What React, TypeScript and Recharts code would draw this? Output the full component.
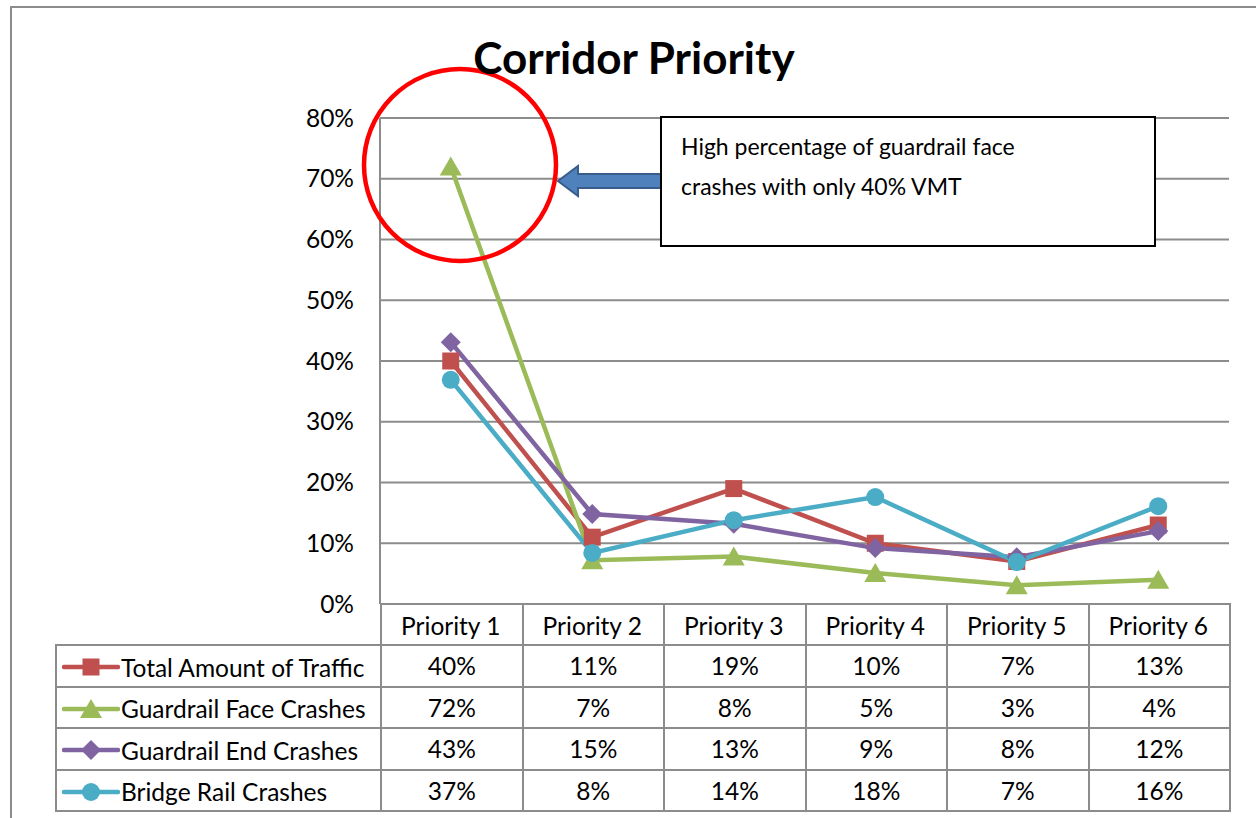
import React from 'react';
import { LineChart, Line, XAxis, YAxis, CartesianGrid } from 'recharts';

const categories = ['Priority 1', 'Priority 2', 'Priority 3', 'Priority 4', 'Priority 5', 'Priority 6'];
const totalTraffic = [0.40, 0.11, 0.19, 0.10, 0.07, 0.13];
const guardrailFace = [0.72, 0.072, 0.078, 0.051, 0.031, 0.04];
const guardrailEnd = [0.431, 0.148, 0.132, 0.092, 0.077, 0.12];
const bridgeRail = [0.369, 0.084, 0.138, 0.176, 0.069, 0.161];
const yTicks = [0, 0.1, 0.2, 0.3, 0.4, 0.5, 0.6, 0.7, 0.8];

const FONT = "Lato, 'Liberation Sans', sans-serif";
const GRID = '#8c8c8c';
const TXT = 24.5;

type Shape = 'square' | 'triangle' | 'diamond' | 'circle';

const series: { key: string; name: string; values: number[]; color: string; shape: Shape }[] = [
  { key: 'total', name: 'Total Amount of Traffic', values: totalTraffic, color: '#C0504D', shape: 'square' },
  { key: 'face', name: 'Guardrail Face Crashes', values: guardrailFace, color: '#9BBB59', shape: 'triangle' },
  { key: 'end', name: 'Guardrail End Crashes', values: guardrailEnd, color: '#8064A2', shape: 'diamond' },
  { key: 'bridge', name: 'Bridge Rail Crashes', values: bridgeRail, color: '#4BACC6', shape: 'circle' },
];

const chartData = categories.map((name, i) => {
  const row: Record<string, number | string> = { name };
  series.forEach((s) => (row[s.key] = s.values[i]));
  return row;
});

const pct = (v: number) => `${Math.round(v * 100)}%`;

const Marker = ({ shape, cx, cy, color }: { shape: Shape; cx: number; cy: number; color: string }) => {
  if (shape === 'square') return <rect x={cx - 8.5} y={cy - 8.5} width={17} height={17} fill={color} />;
  if (shape === 'triangle')
    return <polygon points={`${cx},${cy - 10} ${cx + 11},${cy + 9} ${cx - 11},${cy + 9}`} fill={color} />;
  if (shape === 'diamond')
    return <polygon points={`${cx},${cy - 10} ${cx + 10},${cy} ${cx},${cy + 10} ${cx - 10},${cy}`} fill={color} />;
  return <circle cx={cx} cy={cy} r={9} fill={color} />;
};

const CategoryTick = (props: any) => {
  const { x, payload } = props;
  return (
    <text x={x} y={625} textAnchor="middle" dominantBaseline="central" fontSize={TXT} fontFamily={FONT} fill="#000">
      {payload.value}
    </text>
  );
};

const cellBorder = `2px solid ${GRID}`;

export default function App() {
  return (
    <div style={{ position: 'absolute', left: 0, top: 0, width: 1256, height: 818, overflow: 'hidden', background: '#fff', fontFamily: FONT }}>
      {/* outer frame */}
      <div style={{ position: 'absolute', left: 10, top: 6, width: 1400, height: 1000, border: `2px solid ${GRID}` }} />

      <div style={{ position: 'absolute', left: 0, top: 0 }}>
        <LineChart width={1256} height={818} data={chartData} margin={{ top: 118, right: 27, bottom: 173, left: 300 }}>
          <CartesianGrid vertical={false} stroke={GRID} strokeWidth={2} />
          <XAxis dataKey="name" scale="band" height={41} axisLine={false} tickLine={false} tick={<CategoryTick />} interval={0} />
          <YAxis
            width={80}
            domain={[0, 0.8]}
            ticks={yTicks}
            tickFormatter={pct}
            axisLine={{ stroke: GRID, strokeWidth: 2 }}
            tickLine={false}
            tickSize={0}
            tickMargin={26}
            tick={{ fill: '#000', fontSize: TXT, fontFamily: FONT }}
          />
          {series.map((s) => (
            <Line
              key={s.key}
              dataKey={s.key}
              stroke={s.color}
              strokeWidth={4.5}
              isAnimationActive={false}
              dot={(p: any) => <Marker key={`${s.key}-${p.index}`} shape={s.shape} cx={p.cx} cy={p.cy} color={s.color} />}
              activeDot={false}
            />
          ))}
        </LineChart>
      </div>

      {/* data table */}
      <table
        style={{
          position: 'absolute',
          left: 55,
          top: 603,
          width: 1175,
          borderCollapse: 'collapse',
          tableLayout: 'fixed',
          fontSize: TXT,
          fontFamily: FONT,
          color: '#000',
        }}
      >
        <colgroup>
          <col style={{ width: 325 }} />
          {categories.map((c) => (
            <col key={c} style={{ width: 141.5 }} />
          ))}
        </colgroup>
        <tbody>
          <tr style={{ height: 41 }}>
            <td style={{ borderBottom: cellBorder, padding: 0 }} />
            {categories.map((c) => (
              <td key={c} style={{ border: cellBorder, padding: 0 }} />
            ))}
          </tr>
          {series.map((s) => (
            <tr key={s.key} style={{ height: 41.5 }}>
              <td style={{ border: cellBorder, padding: '0 0 0 5px', whiteSpace: 'nowrap', overflow: 'hidden' }}>
                <svg width={58} height={22} style={{ verticalAlign: 'middle', marginRight: 1 }}>
                  <line x1={2} y1={11} x2={56} y2={11} stroke={s.color} strokeWidth={4.5} strokeLinecap="round" />
                  <Marker shape={s.shape} cx={29} cy={11} color={s.color} />
                </svg>
                <span style={{ verticalAlign: 'middle' }}>{s.name}</span>
              </td>
              {s.values.map((v, i) => (
                <td key={i} style={{ border: cellBorder, padding: 0, textAlign: 'center' }}>
                  {pct(v)}
                </td>
              ))}
            </tr>
          ))}
        </tbody>
      </table>

      {/* annotations */}
      <svg width={1256} height={818} style={{ position: 'absolute', left: 0, top: 0, pointerEvents: 'none' }}>
        <circle cx={460} cy={165} r={96} fill="none" stroke="#FF0000" strokeWidth={4.5} />
        <polygon
          points="558,181 578,166 578,174 664,174 664,188 578,188 578,196"
          fill="#4F81BD"
          stroke="#385D8A"
          strokeWidth={2}
        />
      </svg>

      <div
        style={{
          position: 'absolute',
          left: 660,
          top: 116,
          width: 496,
          height: 131,
          border: '2px solid #000',
          background: '#fff',
          padding: '8px 0 0 19px',
          boxSizing: 'border-box',
          fontSize: 23,
          lineHeight: '40px',
          color: '#000',
          fontFamily: FONT,
        }}
      >
        High percentage of guardrail face
        <br />
        crashes with only 40% VMT
      </div>

      <div
        style={{
          position: 'absolute',
          left: 0,
          width: 1268,
          top: 32,
          textAlign: 'center',
          fontSize: 44,
          fontWeight: 'bold',
          fontFamily: FONT,
          lineHeight: '50px',
          color: '#000',
        }}
      >
        Corridor Priority
      </div>
    </div>
  );
}
